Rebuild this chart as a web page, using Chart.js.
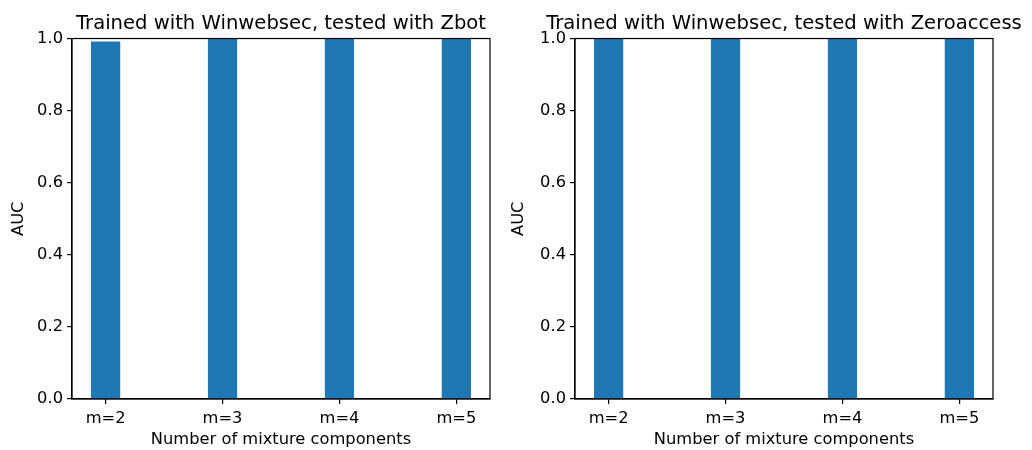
<!DOCTYPE html>
<html>
<head>
<meta charset="utf-8">
<script src="https://cdn.jsdelivr.net/npm/chart.js@4"></script>
<style>
  html, body { margin: 0; padding: 0; background: #fff; }
  #wrap { position: relative; width: 1032px; height: 450px; overflow: hidden; background: #fff; }
  .panel { position: absolute; top: 0; height: 450px; }
</style>
</head>
<body>
<div id="wrap">
  <div class="panel" style="left:0;width:562px"><canvas id="zbot" width="562" height="450"></canvas></div>
  <div class="panel" style="left:500px;width:568px"><canvas id="zeroaccess" width="568" height="450"></canvas></div>
</div>
<script>
// Mixture-component counts on the x axis
const componentLabels = ['m=2', 'm=3', 'm=4', 'm=5'];
// AUC per component count, trained on Winwebsec
const aucZbot = [0.992, 1.0, 1.0, 1.0];
const aucZeroaccess = [1.0, 1.0, 1.0, 1.0];
// y tick values
const aucTicks = [0.0, 0.2, 0.4, 0.6, 0.8, 1.0];

const titleZbot = 'Trained with Winwebsec, tested with Zbot';
const titleZeroaccess = 'Trained with Winwebsec, tested with Zeroaccess';
const xAxisTitle = 'Number of mixture components';
const yAxisTitle = 'AUC';

const FONT = "'DejaVu Sans', sans-serif";
const BAR_BLUE = '#1f77b4';

// draws the full box (all four spines) around the plot area
const framePlugin = {
  id: 'frame',
  afterDatasetsDraw(chart) {
    const { ctx, chartArea: a } = chart;
    ctx.save();
    ctx.strokeStyle = '#000';
    ctx.lineWidth = 1.2;
    ctx.strokeRect(a.left, a.top, a.right - a.left, a.bottom - a.top);
    ctx.restore();
  }
};

// centres the title over the plot area (not the whole canvas) without squeezing it
const centerTitlePlugin = {
  id: 'centerTitle',
  afterLayout(chart) {
    const t = chart.titleBlock;
    if (!t) return;
    const a = chart.chartArea;
    const cx = (a.left + a.right) / 2;
    const half = 280;
    t.left = cx - half;
    t.right = cx + half;
    t.width = 2 * half;
  }
};

function makeChart(id, title, values, yWidth, rightPad) {
  const points = values.map((v, i) => ({ x: i, y: v }));
  return new Chart(document.getElementById(id), {
    type: 'bar',
    data: {
      datasets: [{
        data: points,
        backgroundColor: BAR_BLUE,
        borderWidth: 0,
        barPercentage: 0.25,
        categoryPercentage: 1.0
      }]
    },
    options: {
      responsive: false,
      animation: false,
      devicePixelRatio: 1,
      layout: { padding: { left: 0, top: 0, right: rightPad, bottom: 0 } },
      plugins: {
        legend: { display: false },
        tooltip: { enabled: false },
        title: {
          display: true,
          text: title,
          fullSize: true,
          color: '#000',
          font: { family: FONT, size: 19.6, weight: 'normal', lineHeight: 1.2 },
          padding: { top: 12.2, bottom: 2.8 }
        }
      },
      scales: {
        x: {
          type: 'linear',
          offset: false,
          min: -0.2875,
          max: 3.2875,
          afterBuildTicks(scale) {
            scale.ticks = componentLabels.map((_, i) => ({ value: i }));
          },
          afterFit(scale) { scale.height = 51; },
          ticks: {
            color: '#000',
            font: { family: FONT, size: 16.3 },
            padding: 5,
            maxRotation: 0,
            autoSkip: false,
            callback: (v) => componentLabels[v]
          },
          grid: {
            offset: false,
            drawOnChartArea: false,
            drawTicks: true,
            tickLength: 5,
            color: '#000',
            lineWidth: 1.2
          },
          border: { display: true, color: '#000', width: 1.2 },
          title: {
            display: true,
            text: xAxisTitle,
            color: '#000',
            font: { family: FONT, size: 16.3, lineHeight: 1.2 },
            padding: { top: 0, bottom: 0 }
          }
        },
        y: {
          min: 0,
          max: 1,
          afterBuildTicks(scale) {
            scale.ticks = aucTicks.map(v => ({ value: v }));
          },
          afterFit(scale) { scale.width = yWidth; },
          ticks: {
            color: '#000',
            font: { family: FONT, size: 16.3 },
            padding: 4,
            callback: (v) => Number(v).toFixed(1)
          },
          grid: {
            drawOnChartArea: false,
            drawTicks: true,
            tickLength: 5,
            color: '#000',
            lineWidth: 1.2
          },
          border: { display: true, color: '#000', width: 1.2 },
          title: {
            display: true,
            text: yAxisTitle,
            color: '#000',
            font: { family: FONT, size: 16.3, lineHeight: 1.2 },
            padding: { top: 9.4, bottom: 0 }
          }
        }
      }
    },
    plugins: [framePlugin, centerTitlePlugin]
  });
}

makeChart('zbot', titleZbot, aucZbot, 72, 72);
makeChart('zeroaccess', titleZeroaccess, aucZeroaccess, 75, 75);
</script>
</body>
</html>
